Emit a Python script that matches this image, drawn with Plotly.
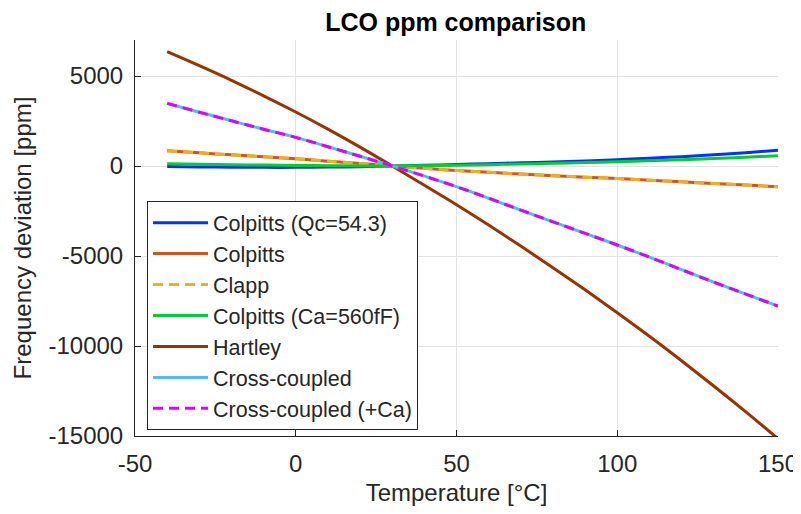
import plotly.graph_objects as go

temps = [-40, -30, -20, -10, 0, 10, 20, 30, 40, 50, 60, 70, 80, 90, 100, 110, 120, 130, 140, 150]

colpitts_qc = [-30, -50, -65, -75, -75, -60, -35, 0, 40, 85, 130, 175, 225, 280, 350, 430, 520, 620, 740, 880]
colpitts = [845, 730, 620, 510, 400, 270, 135, 0, -130, -250, -350, -450, -540, -620, -700, -790, -880, -970, -1060, -1150]
clapp = [845, 730, 620, 510, 400, 270, 135, 0, -130, -250, -350, -450, -540, -620, -700, -790, -880, -970, -1060, -1150]
colpitts_ca = [130, 100, 75, 50, 30, 15, 5, 0, 20, 45, 75, 110, 150, 190, 240, 290, 345, 410, 490, 570]
hartley = [6350, 5570, 4760, 3900, 3000, 2050, 1050, 0, -1070, -2150, -3280, -4450, -5650, -6880, -8150, -9460, -10820, -12220, -13660, -15150]
cross = [3480, 2990, 2510, 2040, 1590, 1070, 540, 0, -560, -1150, -1790, -2450, -3100, -3740, -4390, -5060, -5760, -6450, -7120, -7780]
cross_ca = [3480, 2990, 2510, 2040, 1590, 1070, 540, 0, -560, -1150, -1790, -2450, -3100, -3740, -4390, -5060, -5760, -6450, -7120, -7780]

x_ticks = [-50, 0, 50, 100, 150]
x_ticktext = ["-50", "0", "50", "100", "150"]
y_ticks = [-15000, -10000, -5000, 0, 5000]
y_ticktext = ["-15000", "-10000", "-5000", "0", "5000"]

series = [
    ("Colpitts (Qc=54.3)", colpitts_qc, "#0033FF", "solid"),
    ("Colpitts", colpitts, "#D95319", "solid"),
    ("Clapp", clapp, "#EDB120", "10px,6px"),
    ("Colpitts (Ca=560fF)", colpitts_ca, "#00CC33", "solid"),
    ("Hartley", hartley, "#993300", "solid"),
    ("Cross-coupled", cross, "#4DBEEE", "solid"),
    ("Cross-coupled (+Ca)", cross_ca, "#DD00FF", "10px,6px"),
]

fig = go.Figure()
for name, ys, color, dash in series:
    fig.add_trace(go.Scatter(x=temps, y=ys, mode="lines", name=name,
                             line=dict(color=color, width=3, dash=dash, shape="spline")))

font_family = "Liberation Sans, Arial, Helvetica, sans-serif"
axis_common = dict(
    showgrid=True, gridcolor="#E3E3E3", gridwidth=1,
    showline=True, linecolor="#262626", linewidth=1,
    ticks="inside", ticklen=6, tickcolor="#262626", zeroline=False,
    automargin=False, mirror=False,
    tickfont=dict(family=font_family, size=24, color="#262626"),
)
fig.update_layout(
    template="none",
    width=801, height=514,
    margin=dict(l=127, r=31, t=32, b=86, pad=0),
    paper_bgcolor="white", plot_bgcolor="white",
    font=dict(family=font_family, size=22, color="#262626"),
    title=dict(text="<b>LCO ppm comparison</b>", x=0.559, xanchor="center",
               y=0.972, yanchor="middle",
               font=dict(family=font_family, size=25, color="black")),
    showlegend=True,
    legend=dict(x=0.0187, y=0.593, xanchor="left", yanchor="top",
                bgcolor="white", bordercolor="#262626", borderwidth=1,
                font=dict(family=font_family, size=21.5, color="#262626"),
                itemwidth=55, tracegroupgap=0),
    xaxis=dict(range=[-50, 150], tickvals=x_ticks, ticktext=x_ticktext,
               ticklabelstandoff=6,
               title=dict(text="Temperature [°C]", font=dict(size=24, color="#262626"), standoff=8),
               **axis_common),
    yaxis=dict(range=[-15000, 7000], tickvals=y_ticks, ticktext=y_ticktext,
               ticklabelstandoff=6,
               title=dict(text="Frequency deviation [ppm]", font=dict(size=24, color="#262626"), standoff=10),
               **axis_common),
)

fig.write_html("out.html")
